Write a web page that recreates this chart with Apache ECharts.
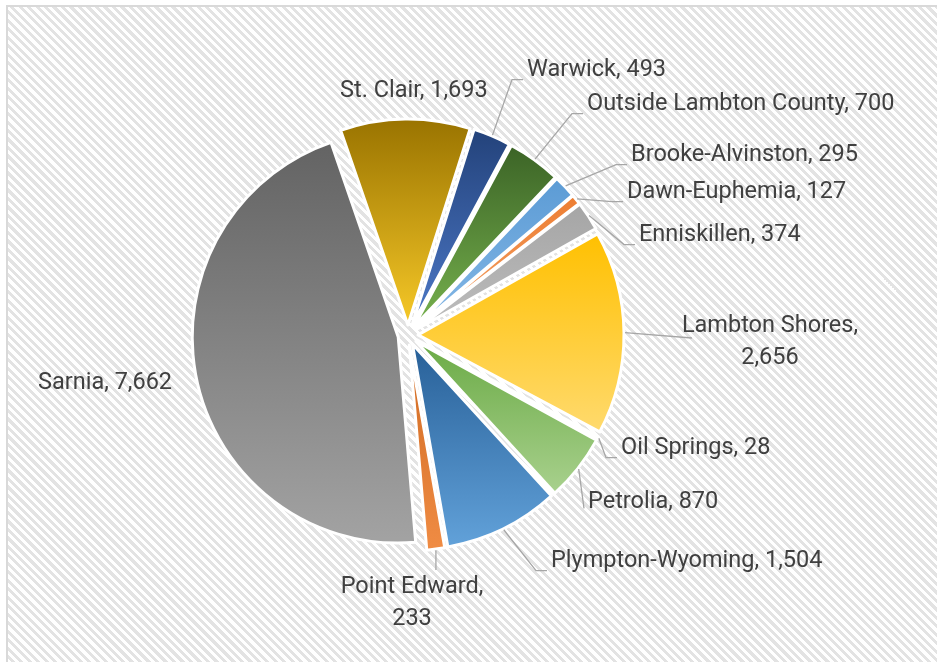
<!DOCTYPE html>
<html>
<head>
<meta charset="utf-8">
<script src="https://cdn.jsdelivr.net/npm/echarts@6/dist/echarts.min.js"></script>
<style>
  html, body { margin: 0; padding: 0; background: #fff; overflow: hidden; }
  .frame {
    position: absolute;
    left: 6px; top: 5px;
    width: 960px; height: 690px;
    border: 2px solid #d9d9d9;
    background: repeating-linear-gradient(45deg, #ffffff 0px, #ffffff 3px, #e3e3e3 3px, #e3e3e3 6px);
  }
  #chart { position: absolute; left: 0; top: 0; width: 937px; height: 662px; }
</style>
</head>
<body>
<div class="frame"></div>
<div id="chart"></div>
<script>
// data, in sheet order (first slice starts near 1 o'clock, clockwise)
const regions = [
  'Brooke-Alvinston', 'Dawn-Euphemia', 'Enniskillen', 'Lambton Shores',
  'Oil Springs', 'Petrolia', 'Plympton-Wyoming', 'Point Edward',
  'Sarnia', 'St. Clair', 'Warwick', 'Outside Lambton County'
]
const counts = [295, 127, 374, 2656, 28, 870, 1504, 233, 7662, 1693, 493, 700]

// labels that break onto two lines
const wrapped = ['Lambton Shores', 'Point Edward']

// gradient colours per slice: top -> bottom
const topColors = ['#5b9bd5', '#ed7d31', '#a5a5a5', '#ffc000', '#4472c4', '#6aaa45',
  '#275f97', '#cf6a22', '#636363', '#997300', '#23427a', '#3b6326']
const bottomColors = ['#86b8e6', '#f3a36a', '#bdbdbd', '#ffda6e', '#7396d8', '#a9d18e',
  '#62a2da', '#f08c44', '#a3a3a3', '#f7c928', '#4d79c8', '#77b24e']

// where each label sits: [x, y, align]
const labelPos = [
  [631, 155, 'left'], [627, 192, 'left'], [639, 235, 'left'], [770, 342, 'center'],
  [621, 448, 'left'], [588, 502, 'left'], [551, 561, 'left'], [412, 603, 'center'],
  [38, 383, 'left'], [340, 91, 'left'], [527, 70, 'left'], [587, 104, 'left']
]
const leaderKind = ['side', 'side', 'side', 'mid', 'side', 'drop', 'side', 'top',
  'none', 'none', 'side', 'side']

const CX = 408, CY = 335, R = 206, EXPLODE = 10, START = 46.6

const chart = echarts.init(document.getElementById('chart'))

const total = counts.reduce((a, b) => a + b, 0)
// mid angle of each slice, degrees clockwise from 12 o'clock
let acc = 0
const midAngles = counts.map(v => {
  const m = (90 - START) + (acc + v / 2) / total * 360
  acc += v
  return m
})

const leaderPoints = (i, rect) => {
  const a = midAngles[i] * Math.PI / 180
  const r0 = R + EXPLODE + 1
  const s = [CX + r0 * Math.sin(a), CY - r0 * Math.cos(a)]
  const kind = leaderKind[i]
  if (kind === 'top') {
    const e = [s[0], rect.y - 1]
    return [s, e, e]
  }
  if (kind === 'mid') {
    const e = [rect.x + 10, rect.y + rect.height / 2 - 4]
    return [s, e, e]
  }
  if (kind === 'drop') {
    const e = [rect.x - 4, rect.y + rect.height * 0.7]
    return [s, e, e]
  }
  const e = [rect.x - 4, rect.y + rect.height * 0.8]
  return [s, [e[0] - 11, e[1]], e]
}

const slices = regions.map((name, i) => ({
  name: name,
  value: counts[i],
  selected: true,
  itemStyle: {
    color: new echarts.graphic.LinearGradient(0, 0, 0, 1, [
      { offset: 0, color: topColors[i] },
      { offset: 1, color: bottomColors[i] }
    ])
  }
}))

const labelData = regions.map((name, i) => ({
  name: name,
  value: counts[i],
  labelLine: { show: leaderKind[i] !== 'none' }
}))

chart.setOption({
  backgroundColor: 'transparent',
  animation: false,
  series: [{
    // exploded slices
    type: 'pie',
    center: [CX, CY],
    radius: R,
    startAngle: START,
    clockwise: true,
    selectedMode: 'multiple',
    selectedOffset: EXPLODE,
    silent: true,
    itemStyle: { borderColor: '#ffffff', borderWidth: 3 },
    select: { itemStyle: { borderColor: '#ffffff', borderWidth: 3 } },
    emphasis: { scale: false },
    label: { show: false },
    labelLine: { show: false },
    data: slices
  }, {
    // same values again, invisible, only to carry the labels
    type: 'pie',
    center: [CX, CY],
    radius: R + EXPLODE,
    startAngle: START,
    clockwise: true,
    silent: true,
    z: 3,
    avoidLabelOverlap: false,
    itemStyle: { color: 'rgba(0,0,0,0)', borderWidth: 0 },
    emphasis: { scale: false },
    label: {
      show: true,
      position: 'outside',
      color: '#404040',
      fontFamily: 'Roboto',
      fontSize: 23.5,
      lineHeight: 32,
      formatter: p => p.name + ',' + (wrapped.includes(p.name) ? '\n' : ' ') +
        p.value.toLocaleString('en-US')
    },
    labelLine: {
      show: true,
      lineStyle: { color: '#a6a6a6', width: 1.3 }
    },
    labelLayout: p => {
      const pos = labelPos[p.dataIndex]
      const w = p.labelRect.width, h = p.labelRect.height
      const x0 = pos[2] === 'center' ? pos[0] - w / 2 : pos[0]
      const rect = { x: x0, y: pos[1] - h / 2, width: w, height: h }
      return {
        x: pos[0], y: pos[1], align: pos[2], verticalAlign: 'middle',
        labelLinePoints: leaderPoints(p.dataIndex, rect)
      }
    },
    data: labelData
  }]
})
</script>
</body>
</html>
